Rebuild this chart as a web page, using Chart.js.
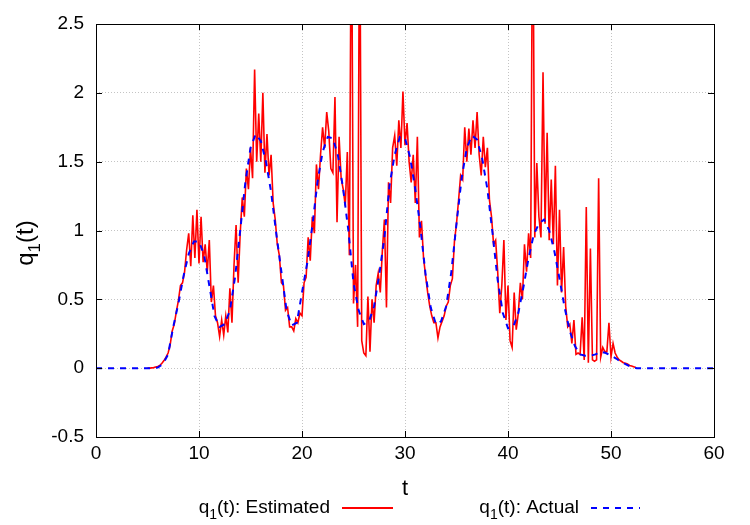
<!DOCTYPE html>
<html lang="en">
<head>
<meta charset="UTF-8">
<title>q1(t): estimated vs actual</title>
<script src="https://cdn.jsdelivr.net/npm/chart.js"></script>
<style>
    body { margin: 0; background: #fff; }
    #wrap { width: 750px; height: 525px; }
</style>
</head>
<body>
<div id="wrap"><canvas id="chart"></canvas></div>
<script>
    const FONT = '"Liberation Sans", Arial, sans-serif';

    // actual q1(t), one value every 0.5 starting at t = 0
    const actualStart = 0, actualStep = 0.5;
    const actualQ = [
        0, 0, 0, 0, 0, 0, 0, 0, 0, 0, 0,
        0, 0.005, 0.03, 0.1, 0.3, 0.47, 0.67, 0.83, 0.92, 0.92,
        0.82, 0.6, 0.38, 0.3, 0.32, 0.42, 0.66, 1.0, 1.35, 1.6,
        1.7, 1.65, 1.5, 1.28, 0.98, 0.7, 0.42, 0.31, 0.33, 0.55,
        0.76, 1.03, 1.35, 1.57, 1.68, 1.67, 1.54, 1.3, 1.0, 0.62,
        0.42, 0.32, 0.34, 0.45, 0.68, 0.95, 1.33, 1.55, 1.68, 1.67,
        1.53, 1.3, 1.02, 0.68, 0.44, 0.32, 0.34, 0.45, 0.7, 1.05,
        1.38, 1.6, 1.69, 1.66, 1.52, 1.3, 0.98, 0.64, 0.4, 0.29,
        0.3, 0.4, 0.59, 0.8, 0.97, 1.05, 1.08, 1.0, 0.85, 0.65,
        0.44, 0.27, 0.16, 0.1, 0.09, 0.09, 0.1, 0.12, 0.11, 0.09,
        0.07, 0.045, 0.026, 0.008, 0,
        0, 0, 0, 0, 0, 0, 0, 0, 0, 0, 0, 0, 0, 0, 0
    ];

    // estimated q1(t), one value every 0.2 starting at t = 5
    const estStart = 5, estStep = 0.2;
    const estimatedQ = [
        0, 0, 0.002, 0.004, 0.008, 0.012, 0.02, 0.035, 0.055, 0.08,
        0.11, 0.17, 0.27, 0.32, 0.41, 0.49, 0.6, 0.62, 0.7, 0.86,
        0.98, 0.74, 1.11, 0.8, 1.15, 0.76, 1.1, 0.77, 0.9, 0.7,
        0.93, 0.48, 0.6, 0.38, 0.33, 0.23, 0.35, 0.24, 0.38, 0.26,
        0.58, 0.33, 0.75, 1.04, 0.62, 0.98, 1.24, 1.1, 1.45, 1.3,
        1.6, 1.38, 2.17, 1.5, 1.85, 1.5, 2.0, 1.42, 1.7, 1.4,
        1.55, 1.2, 1.08, 0.9, 0.82, 0.62, 0.6, 0.42, 0.44, 0.3,
        0.3, 0.27, 0.36, 0.33, 0.4, 0.38, 0.62, 0.66, 0.95, 0.78,
        1.1, 0.98, 1.48, 1.3, 1.55, 1.75, 1.6, 1.86, 1.72, 1.45,
        1.42, 1.97, 1.06, 1.68, 1.38, 1.3, 1.18, 1.57, 0.82, 3.6,
        0.47, 0.75, 0.3, 3.6, 0.2, 0.11, 0.09, 0.52, 0.12, 0.5,
        0.33, 0.6, 0.69, 0.55, 0.85, 1.08, 0.44, 1.35, 1.2, 1.6,
        1.69, 1.47, 1.8, 1.6, 2.01, 1.62, 1.78, 1.5, 1.35, 1.55,
        1.2, 1.68, 0.95, 1.07, 0.8, 0.67, 0.55, 0.45, 0.38, 0.33,
        0.33, 0.22, 0.3, 0.34, 0.38, 0.45, 0.48, 0.6, 0.65, 0.92,
        1.05, 1.22, 1.4, 1.37, 1.75, 1.5, 1.74, 1.55, 1.8, 1.6,
        1.86, 1.55, 1.4, 1.68, 1.46, 1.6, 1.22, 1.1, 0.9, 0.93,
        0.7, 0.4, 0.6, 0.93, 0.35, 0.6, 0.2, 0.15, 0.55, 0.28,
        0.4, 0.62, 0.5, 0.9, 0.7, 0.98, 0.8, 3.6, 0.95, 1.49,
        1.1, 0.95, 2.15, 1.05, 1.71, 0.93, 1.37, 0.9, 1.47, 0.6,
        1.15, 0.55, 0.88, 0.45, 0.3, 0.32, 0.18, 0.35, 0.1, 0.11,
        0.1, 0.37, 0.06, 1.17, 0.04, 0.87, 0.06, 0.05, 0.06, 1.38,
        0.08, 0.15, 0.12, 0.12, 0.33, 0.08, 0.18, 0.11, 0.08, 0.06,
        0.05, 0.04, 0.035, 0.03, 0.02, 0.015, 0.01, 0.005
    ];

    const xRange = [0, 60], xStep = 10;
    const yRange = [-0.5, 2.5], yStep = 0.5;
    const seriesNames = ['Estimated', 'Actual'];
    const axisTitleX = 't';

    const toPoints = (vals, start, step) =>
        vals.map((v, i) => ({ x: +(start + i * step).toFixed(2), y: v }));

    // "q" + subscript "1" + rest, drawn as pieces
    function q1Parts(rest, size) {
        return [
            { text: 'q', size: size, dy: 0 },
            { text: '1', size: Math.round(size * 0.72), dy: size * 0.3 },
            { text: '(t)' + rest, size: size, dy: 0 }
        ];
    }
    function partsWidth(ctx, parts) {
        let w = 0;
        for (const p of parts) { ctx.font = p.size + 'px ' + FONT; w += ctx.measureText(p.text).width; }
        return w;
    }
    function drawParts(ctx, parts, x, y) {
        let cx = x;
        for (const p of parts) {
            ctx.font = p.size + 'px ' + FONT;
            ctx.fillText(p.text, cx, y + p.dy);
            cx += ctx.measureText(p.text).width;
        }
    }

    // frame with inward tick marks, like the original plot
    const framePlugin = {
        id: 'frame',
        afterDatasetsDraw(chart) {
            const { ctx, chartArea: a, scales } = chart;
            ctx.save();
            ctx.strokeStyle = '#000';
            ctx.lineWidth = 1;
            ctx.strokeRect(Math.round(a.left) + 0.5, Math.round(a.top) + 0.5,
                Math.round(a.right - a.left), Math.round(a.bottom - a.top));
            const len = 6;
            ctx.beginPath();
            scales.x.ticks.forEach(t => {
                const px = Math.round(scales.x.getPixelForValue(t.value)) + 0.5;
                ctx.moveTo(px, a.bottom); ctx.lineTo(px, a.bottom - len);
                ctx.moveTo(px, a.top); ctx.lineTo(px, a.top + len);
            });
            scales.y.ticks.forEach(t => {
                const py = Math.round(scales.y.getPixelForValue(t.value)) + 0.5;
                ctx.moveTo(a.left, py); ctx.lineTo(a.left + len, py);
                ctx.moveTo(a.right, py); ctx.lineTo(a.right - len, py);
            });
            ctx.stroke();
            ctx.restore();
        }
    };

    // axis titles and the legend under the x axis
    const labelsPlugin = {
        id: 'labels',
        afterDraw(chart) {
            const { ctx, chartArea: a } = chart;
            ctx.save();
            ctx.fillStyle = '#000';
            ctx.textBaseline = 'alphabetic';

            // y title, rotated
            const yParts = q1Parts('', 24);
            const yw = partsWidth(ctx, yParts);
            ctx.save();
            ctx.translate(33, 243);
            ctx.rotate(-Math.PI / 2);
            drawParts(ctx, yParts, -yw / 2, 0);
            ctx.restore();

            // x title
            ctx.font = '22px ' + FONT;
            ctx.textAlign = 'center';
            ctx.fillText(axisTitleX, (a.left + a.right) / 2, 495);
            ctx.textAlign = 'left';

            // legend entries: text then line sample
            const entries = [
                { name: seriesNames[0], right: 330, x0: 342, x1: 393, color: '#ff0000', dash: [] },
                { name: seriesNames[1], right: 579, x0: 591, x1: 640, color: '#0000ff', dash: [6, 6] }
            ];
            entries.forEach(e => {
                const parts = q1Parts(': ' + e.name, 19);
                const w = partsWidth(ctx, parts);
                drawParts(ctx, parts, e.right - w, 513);
                ctx.beginPath();
                ctx.strokeStyle = e.color;
                ctx.lineWidth = 2;
                ctx.setLineDash(e.dash);
                ctx.moveTo(e.x0, 508);
                ctx.lineTo(e.x1, 508);
                ctx.stroke();
                ctx.setLineDash([]);
            });
            ctx.restore();
        }
    };

    const gridOpts = { color: '#c4c4c4', lineWidth: 1, drawTicks: false };

    new Chart(document.getElementById('chart'), {
        type: 'line',
        data: {
            datasets: [
                {
                    label: seriesNames[1],
                    data: toPoints(actualQ, actualStart, actualStep),
                    borderColor: '#0000ff',
                    borderWidth: 2,
                    borderDash: [6, 6],
                    pointRadius: 0,
                    tension: 0,
                    order: 0
                },
                {
                    label: seriesNames[0],
                    data: toPoints(estimatedQ, estStart, estStep),
                    borderColor: '#ff0000',
                    borderWidth: 1.6,
                    pointRadius: 0,
                    tension: 0,
                    order: 1
                }
            ]
        },
        options: {
            animation: false,
            responsive: true,
            maintainAspectRatio: false,
            layout: { padding: { left: 0, right: 36, top: 24, bottom: 0 } },
            plugins: { legend: { display: false }, tooltip: { enabled: false } },
            scales: {
                x: {
                    type: 'linear',
                    min: xRange[0], max: xRange[1],
                    ticks: { stepSize: xStep, color: '#000', font: { family: FONT, size: 19 }, padding: 5, maxRotation: 0 },
                    grid: gridOpts,
                    border: { display: false, dash: [1, 2] },
                    afterFit(scale) { scale.height = 88; }
                },
                y: {
                    min: yRange[0], max: yRange[1],
                    ticks: {
                        stepSize: yStep, color: '#000', font: { family: FONT, size: 19 }, padding: 12,
                        callback: v => String(Math.round(v * 10) / 10)
                    },
                    grid: gridOpts,
                    border: { display: false, dash: [1, 2] },
                    afterFit(scale) { scale.width = 96; }
                }
            }
        },
        plugins: [framePlugin, labelsPlugin]
    });
</script>
</body>
</html>
